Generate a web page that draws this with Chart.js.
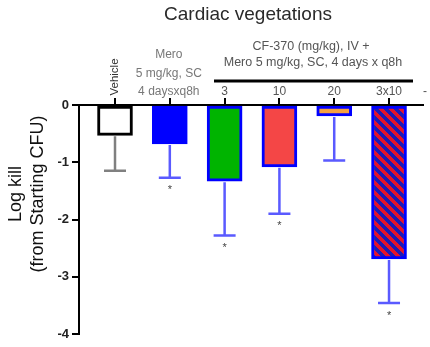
<!DOCTYPE html>
<html>
<head>
<meta charset="utf-8">
<script src="https://cdn.jsdelivr.net/npm/chart.js@4"></script>
<style>
  html, body { margin: 0; padding: 0; background: #fff; }
  #wrap { width: 430px; height: 347px; }
</style>
</head>
<body>
<div id="wrap"><canvas id="chart" width="430" height="347"></canvas></div>
<script>
// ── Data ───────────────────────────────────────────────
const groups   = ['Vehicle', 'Mero', '3', '10', '20', '3x10'];
const logKill  = [-0.53, -0.68, -1.33, -1.08, -0.19, -2.69];
const sdLower  = [0.62, 0.59, 0.95, 0.82, 0.78, 0.77];
const signif   = [false, true, true, true, false, true];
const yTicks   = [0, -1, -2, -3, -4];

const title      = 'Cardiac vegetations';
const meroLines  = ['Mero', '5 mg/kg, SC', '4 daysxq8h'];
const comboLines = ['CF-370 (mg/kg), IV +', 'Mero 5 mg/kg, SC, 4 days x q8h'];
const yTitle     = ['Log kill', '(from Starting CFU)'];

// ── Styles ─────────────────────────────────────────────
const FONT = 'Arial, "Liberation Sans", sans-serif';

// diagonal red / navy hatching for the 3x10 bar
function stripePattern() {
  const n = 10;
  const c = document.createElement('canvas');
  c.width = n; c.height = n;
  const g = c.getContext('2d');
  const img = g.createImageData(n, n);
  for (let y = 0; y < n; y++) {
    for (let x = 0; x < n; x++) {
      const red = ((x - y + n) % n) < n / 2;
      const i = (y * n + x) * 4;
      img.data[i]     = red ? 228 : 30;
      img.data[i + 1] = red ? 18 : 26;
      img.data[i + 2] = red ? 44 : 180;
      img.data[i + 3] = 255;
    }
  }
  g.putImageData(img, 0, 0);
  return g.createPattern(c, 'repeat');
}

const fills   = ['#ffffff', '#0000ff', '#00b400', '#f44646', '#f5a040', stripePattern()];
const borders = ['#000000', '#0000ff', '#0000ff', '#0000ff', '#0000ff', '#0000ff'];
const errCols = ['#808080', '#5a5aff', '#5a5aff', '#5a5aff', '#5a5aff', '#5a5aff'];

// ── Plugins ────────────────────────────────────────────
const errorBars = {
  id: 'errorBars',
  afterDatasetsDraw(chart) {
    const { ctx, scales: { x, y } } = chart;
    ctx.save();
    logKill.forEach((v, i) => {
      const cx = x.getPixelForValue(i + 1);
      const y0 = y.getPixelForValue(v) + 1;
      const y1 = y.getPixelForValue(v - sdLower[i]);
      ctx.strokeStyle = errCols[i];
      ctx.lineWidth = 2.5;
      ctx.beginPath();
      ctx.moveTo(cx, y0); ctx.lineTo(cx, y1);
      ctx.moveTo(cx - 11, y1); ctx.lineTo(cx + 11, y1);
      ctx.stroke();
      if (signif[i]) {
        ctx.fillStyle = '#444';
        ctx.font = '11px ' + FONT;
        ctx.textAlign = 'center';
        ctx.textBaseline = 'top';
        ctx.fillText('*', cx, y1 + 7);
      }
    });
    ctx.restore();
  }
};

const annotations = {
  id: 'annotations',
  afterDraw(chart) {
    const { ctx, scales: { x } } = chart;
    const px = i => x.getPixelForValue(i + 1);
    ctx.save();
    ctx.textAlign = 'center';
    ctx.textBaseline = 'middle';

    // title
    ctx.fillStyle = '#2a2a2a';
    ctx.font = '19px ' + FONT;
    ctx.fillText(title, 248, 15);

    // y title
    ctx.font = '18px ' + FONT;
    ctx.fillStyle = '#111';
    [16, 38].forEach((lx, k) => {
      ctx.save();
      ctx.translate(lx, 194);
      ctx.rotate(-Math.PI / 2);
      ctx.fillText(yTitle[k], 0, 0);
      ctx.restore();
    });

    // vehicle label (rotated)
    ctx.fillStyle = '#333';
    ctx.font = '11.5px ' + FONT;
    ctx.save();
    ctx.translate(px(0), 77);
    ctx.rotate(-Math.PI / 2);
    ctx.fillText(groups[0], 0, 0);
    ctx.restore();

    // mero label
    ctx.fillStyle = '#777';
    ctx.font = '12px ' + FONT;
    [55, 74, 92].forEach((ly, k) => ctx.fillText(meroLines[k], px(1) - 1, ly));

    // combination header + bracket
    ctx.fillStyle = '#555';
    ctx.font = '12.5px ' + FONT;
    ctx.fillText(comboLines[0], 311, 47);
    ctx.fillText(comboLines[1], 313, 63);
    ctx.fillStyle = '#000';
    ctx.fillRect(214, 79.5, 199, 3);

    // dose labels
    ctx.fillStyle = '#555';
    ctx.font = '12px ' + FONT;
    for (let i = 2; i < groups.length; i++) ctx.fillText(groups[i], px(i), 92);
    ctx.fillText('-', 425, 92);
    ctx.restore();
  }
};

// ── Chart ──────────────────────────────────────────────
new Chart(document.getElementById('chart'), {
  type: 'bar',
  data: {
    datasets: [{
      data: logKill.map((v, i) => ({ x: i + 1, y: v })),
      backgroundColor: fills,
      borderColor: borders,
      borderWidth: 3,
      borderSkipped: false,
      barThickness: 35,
    }],
  },
  options: {
    responsive: false,
    animation: false,
    layout: { padding: { top: 98, bottom: 13, right: 7, left: 0 } },
    plugins: { legend: { display: false }, tooltip: { enabled: false } },
    scales: {
      x: {
        type: 'linear',
        position: 'top',
        offset: false,
        min: 0.343,
        max: 6.62,
        afterBuildTicks: s => { s.ticks = groups.map((g, i) => ({ value: i + 1 })); },
        afterFit: s => { s.height = 7; },
        ticks: { display: false },
        grid: { offset: false, drawOnChartArea: false, tickLength: 7, lineWidth: 2, color: '#000' },
        border: { color: '#000', width: 2 },
      },
      y: {
        min: -4,
        max: 0,
        afterBuildTicks: s => { s.ticks = yTicks.map(v => ({ value: v })); },
        afterFit: s => { s.width = 79; },
        ticks: {
          color: '#222',
          padding: 3,
          font: { family: FONT, size: 13, weight: 'bold' },
        },
        grid: { drawOnChartArea: false, tickLength: 7, lineWidth: 2, color: '#000' },
        border: { color: '#000', width: 2 },
      },
    },
  },
  plugins: [errorBars, annotations],
});
</script>
</body>
</html>
